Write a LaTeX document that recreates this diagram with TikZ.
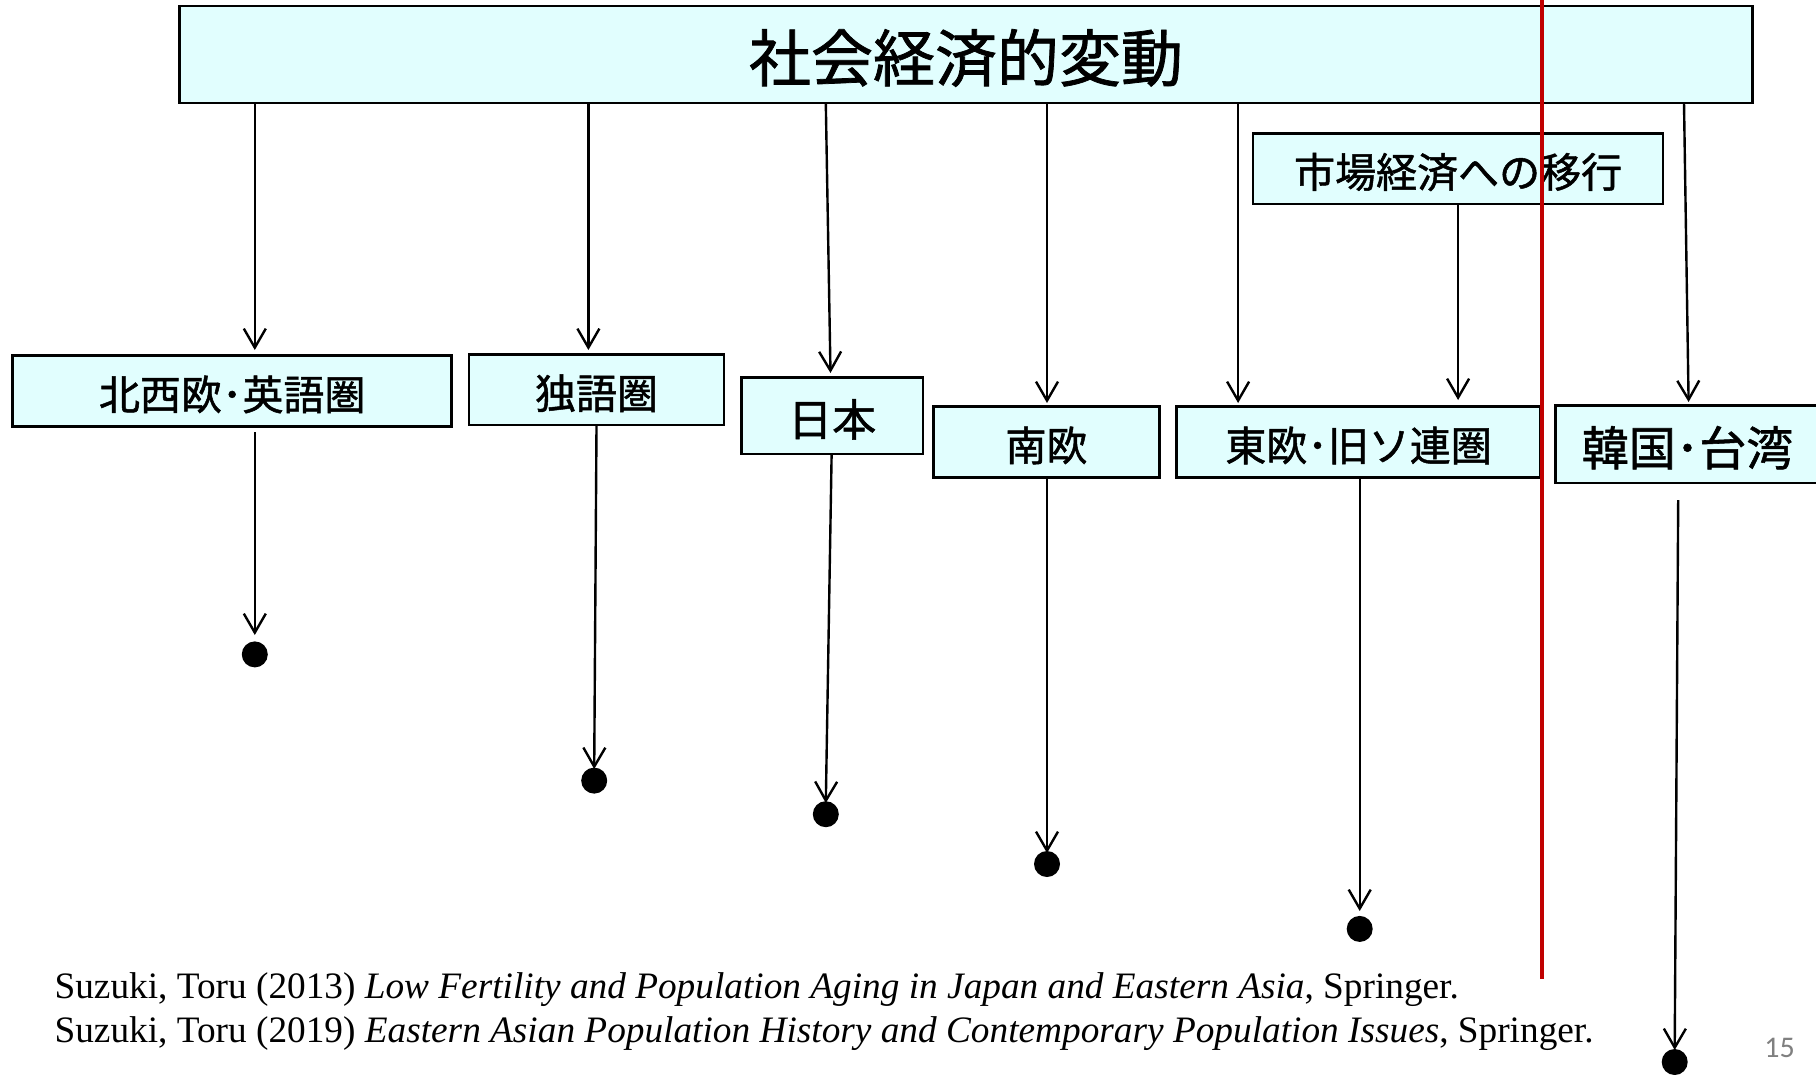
\documentclass[tikz,border=0pt]{standalone}
\usepackage{fontspec}
\setmainfont{Liberation Serif}
\newfontfamily\jpfont[FakeBold=1.2]{Noto Sans CJK JP}
\newfontfamily\pagenofont{Carlito}
\usetikzlibrary{arrows.meta}
\definecolor{boxfill}{RGB}{225,254,254}
\definecolor{redline}{RGB}{192,0,0}
\definecolor{pagegray}{RGB}{128,128,128}
\newcommand{\lowtxt}[1]{\raisebox{-3.5bp}[\height][\depth]{#1}}
\begin{document}
\begin{tikzpicture}[x=1bp,y=-1bp,
  box/.style={draw=black,fill=boxfill,line width=2.6bp,rectangle,inner sep=0pt,
    font=\jpfont\fontsize{41bp}{45bp}\selectfont},
  arr/.style={line width=2.4bp,-{Straight Barb[length=19bp,width=22bp,line width=2.4bp]}},
  dot/.style={circle,fill=black,inner sep=0pt,minimum size=26bp},
  ref/.style={anchor=base west,inner sep=0pt,font=\fontsize{37.3bp}{42bp}\selectfont}]
\clip (0,0) rectangle (1816,1074);
\fill[white] (0,0) rectangle (1816,1074);
% top box
\node[box,minimum width=1573bp,minimum height=97bp,font=\jpfont\fontsize{62bp}{66bp}\selectfont] (top) at (966,54.4) {\lowtxt{社会経済的変動}};
% second-level boxes
\node[box,minimum width=439bp,minimum height=70.6bp] (A) at (232.2,390.9) {\lowtxt{北西欧･英語圏}};
\node[box,minimum width=254.8bp,minimum height=70.6bp] (B) at (596.5,389.7) {\lowtxt{独語圏}};
\node[box,minimum width=181.8bp,minimum height=76.4bp,font=\jpfont\fontsize{44bp}{48bp}\selectfont] (C) at (832.2,415.8) {\lowtxt{日本}};
\node[box,minimum width=225.9bp,minimum height=70.6bp] (D) at (1046.5,441.9) {\lowtxt{南欧}};
\node[box,minimum width=363.7bp,minimum height=70.6bp] (E) at (1358.6,441.9) {\lowtxt{東欧･旧ソ連圏}};
\node[box,minimum width=410bp,minimum height=70.6bp] (F) at (1458.1,168.5) {\lowtxt{市場経済への移行}};
\node[box,minimum width=264bp,minimum height=77.6bp,font=\jpfont\fontsize{47bp}{51bp}\selectfont] (G) at (1687.5,444.2) {\lowtxt{韓国･台湾}};
% coordinates on the top box and arrow ends
\coordinate (tA) at (254.8,103.1);  \coordinate (eA) at (254.8,350);
\coordinate (tB) at (588.4,103.1);  \coordinate (eB) at (588.4,350);
\coordinate (tC) at (825.8,103.1);  \coordinate (eC) at (830.5,373);
\coordinate (tD) at (1047,103.1);   \coordinate (eD) at (1047,403);
\coordinate (tE) at (1238.1,103.1); \coordinate (eE) at (1238.1,403);
\coordinate (eF) at (1458.1,400);
\coordinate (tG) at (1684,103.1);   \coordinate (eG) at (1688.6,402);
\draw[arr] (tA) -- (eA);
\draw[arr] (tB) -- (eB);
\draw[arr] (tC) -- (eC);
\draw[arr] (tD) -- (eD);
\draw[arr] (tE) -- (eE);
\draw[arr] (F.south) -- (eF);
\draw[arr] (tG) -- (eG);
% dots
\node[dot] (dA) at (254.8,654.4) {};
\node[dot] (dB) at (594.2,780.6) {};
\node[dot] (dC) at (825.8,814.2) {};
\node[dot] (dD) at (1047,864) {};
\node[dot] (dE) at (1359.7,928.9) {};
\node[dot] (dG) at (1674.7,1062) {};
% lower arrows
\coordinate (sA) at (254.8,432);   \coordinate (fA) at (254.8,635);
\coordinate (sB) at (596.5,426);   \coordinate (fB) at (594.2,769);
\coordinate (sC) at (831.6,455);   \coordinate (fC) at (825.8,803);
\coordinate (sD) at (1047,478);    \coordinate (fD) at (1047,853);
\coordinate (sE) at (1359.7,478);  \coordinate (fE) at (1359.7,911);
\coordinate (sG) at (1678.2,500);  \coordinate (fG) at (1674.7,1050);
\draw[arr] (sA) -- (fA);
\draw[arr] (sB) -- (fB);
\draw[arr] (sC) -- (fC);
\draw[arr] (sD) -- (fD);
\draw[arr] (sE) -- (fE);
\draw[arr] (sG) -- (fG);
% references
\node[ref] (r1) at (54.4,998) {Suzuki, Toru (2013) \textit{Low Fertility and Population Aging in Japan and Eastern Asia}, Springer.};
\node[ref] (r2) at (54.4,1042) {Suzuki, Toru (2019) \textit{Eastern Asian Population History and Contemporary Population Issues}, Springer.};
% page number
\node[anchor=base,inner sep=0pt,text=pagegray,font=\pagenofont\fontsize{30bp}{34bp}\selectfont] (pg) at (1779.5,1057) {15};
% red line
\coordinate (rt) at (1541.6,0);
\coordinate (rb) at (1541.6,978.7);
\draw[redline,line width=4.2bp] (rt) -- (rb);
\end{tikzpicture}
\end{document}
